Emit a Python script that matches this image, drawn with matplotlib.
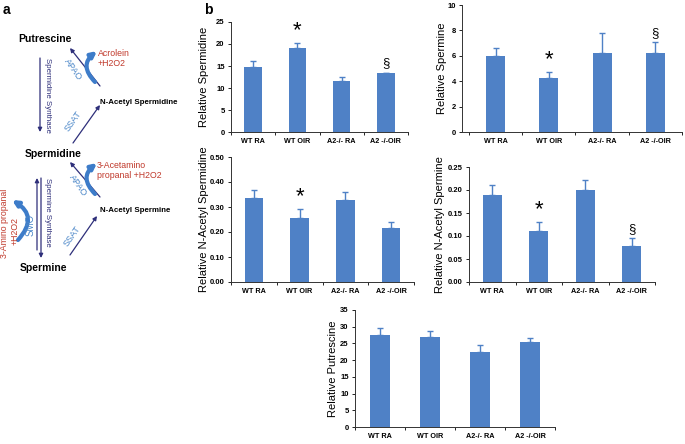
import matplotlib
matplotlib.use("Agg")
import matplotlib.pyplot as plt
from matplotlib.patches import FancyArrowPatch

plt.rcParams['font.family'] = ['Liberation Sans', 'DejaVu Sans']

groups = ["WT RA", "WT OIR", "A2-/- RA", "A2 -/-OIR"]

spermidine = [14.8, 19.0, 11.5, 13.3]
spermidine_err = [1.3, 1.2, 1.0, 0.2]
spermine = [6.0, 4.25, 6.25, 6.2]
spermine_err = [0.6, 0.45, 1.55, 0.85]
ac_spermidine = [0.335, 0.258, 0.327, 0.215]
ac_spermidine_err = [0.035, 0.032, 0.032, 0.025]
ac_spermine = [0.190, 0.110, 0.200, 0.079]
ac_spermine_err = [0.021, 0.020, 0.021, 0.016]
putrescine = [27.5, 27.0, 22.3, 25.3]
putrescine_err = [2.0, 1.6, 2.1, 1.3]

# significance marks per panel: (index, symbol)
marks_spd = [(1, "*"), (3, "§")]
marks_spm = [(1, "*"), (3, "§")]
marks_acspd = [(1, "*")]
marks_acspm = [(1, "*"), (3, "§")]

BAR = "#4f81c6"
W, H = 685, 444

fig = plt.figure(figsize=(6.85, 4.44), dpi=100)


def px_axes(l, t, r, b):
    return fig.add_axes([l / W, 1 - b / H, (r - l) / W, (b - t) / H])


def panel(box, vals, errs, ymax, step, fmt, ylabel, marks, xlim=(-0.5, 3.5), bw=0.4, lab_x=None):
    ax = px_axes(*box)
    x = range(len(groups))
    ax.bar(x, vals, width=bw, color=BAR, zorder=2)
    ax.errorbar(x, vals, yerr=[[0] * 4, errs], fmt="none", ecolor=BAR,
                elinewidth=1.0, capsize=2, capthick=1.0, zorder=1)
    ax.set_xlim(*xlim)
    ax.set_ylim(0, ymax)
    ticks = [i * step for i in range(int(round(ymax / step)) + 1)]
    ax.set_yticks(ticks)
    ax.set_yticklabels([fmt.format(t) for t in ticks], fontsize=5.5, fontweight="bold")
    ax.set_xticks(list(x))
    ax.set_xticklabels(groups, fontsize=5.2, fontweight="bold")
    ax.set_xticks([i - 0.5 for i in range(5)], minor=True)
    ax.tick_params(axis="x", which="major", length=0, pad=4)
    ax.tick_params(axis="x", which="minor", length=2.5, width=0.6, direction="out")
    ax.tick_params(axis="y", length=2.5, width=0.6, pad=2)
    for s in ["top", "right"]:
        ax.spines[s].set_visible(False)
    for s in ["left", "bottom"]:
        ax.spines[s].set_linewidth(0.7)
        ax.spines[s].set_color("#333333")
    ax.set_ylabel(ylabel, fontsize=8)
    if lab_x is not None:
        ax.yaxis.set_label_coords(lab_x, 0.5)
    for i, sym in marks:
        top = vals[i] + errs[i]
        if sym == "*":
            ax.text(i, top + ymax * 0.02, "*", ha="center", va="bottom", fontsize=16)
        else:
            ax.text(i, top + ymax * 0.03, "§", ha="center", va="bottom", fontsize=9.5)
    return ax


panel((231, 22, 408, 132), spermidine, spermidine_err, 25, 5, "{:g}",
      "Relative Spermidine", marks_spd, bw=0.39, lab_x=-0.124)
panel((462, 5, 682, 132), spermine, spermine_err, 10, 2, "{:g}",
      "Relative Spermine", marks_spm, xlim=(-0.63, 3.47), bw=0.36, lab_x=-0.068)
panel((231, 157, 414, 282), ac_spermidine, ac_spermidine_err, 0.5, 0.1, "{:.2f}",
      "Relative N-Acetyl Spermidine", marks_acspd, lab_x=-0.12)
panel((469, 167, 655, 282), ac_spermine, ac_spermine_err, 0.25, 0.05, "{:.2f}",
      "Relative N-Acetyl Spermine", marks_acspm, lab_x=-0.13)
panel((355, 310, 555, 427), putrescine, putrescine_err, 35, 5, "{:g}",
      "Relative Putrescine", [], lab_x=-0.085)

# pathway diagram (panel a) drawn in pixel coordinates
ax0 = fig.add_axes([0, 0, 1, 1], zorder=-1)
ax0.set_xlim(0, W)
ax0.set_ylim(H, 0)
ax0.axis("off")

NAVY = "#2e2f7a"
LBLUE = "#4a86c8"
RED = "#c0392b"

ax0.text(3, 10, "a", fontsize=10, fontweight="bold", va="center")
ax0.text(204, 10, "b", fontsize=10, fontweight="bold", va="center")

for name, xx, yy in [("Putrescine", 45, 39), ("Spermidine", 53, 154), ("Spermine", 43, 268)]:
    ax0.text(xx, yy, name, fontsize=7.5, fontweight="bold", ha="center", va="center")
ax0.text(100, 102, "N-Acetyl Spermidine", fontsize=5.7, fontweight="bold", va="center")
ax0.text(100, 210, "N-Acetyl Spermine", fontsize=5.7, fontweight="bold", va="center")


def arrow(p1, p2, color=NAVY, lw=0.9, rad=0.0, ms=6, style="-|>"):
    a = FancyArrowPatch(p1, p2, arrowstyle=style, mutation_scale=ms, color=color,
                        lw=lw, connectionstyle="arc3,rad=%g" % rad,
                        shrinkA=0, shrinkB=0)
    ax0.add_patch(a)


# straight arrows
arrow((40, 58), (40, 132))
arrow((100, 86), (70, 48))
arrow((73, 143), (100, 105))
arrow((100, 197), (70, 162))
arrow((70, 255), (97, 216))
arrow((37, 250), (37, 178))
arrow((41, 178), (41, 258))

# curved enzyme arrows
arrow((95, 82), (97, 51), color="#3d7cc9", lw=3.0, rad=-0.55, ms=8)
arrow((95, 194), (97, 163), color="#3d7cc9", lw=3.0, rad=-0.55, ms=8)
arrow((18, 240), (12, 200), color="#3d7cc9", lw=3.0, rad=0.6, ms=8)

# enzyme labels
ax0.text(48, 95, "Spermidine Synthase", fontsize=5.7, color=NAVY, rotation=-90,
         ha="center", va="center")
ax0.text(48, 212, "Spermine Synthase", fontsize=5.7, color=NAVY, rotation=-90,
         ha="center", va="center")
ax0.text(73, 69, "APAO", fontsize=6.5, color=LBLUE, rotation=-55, ha="center", va="center")
ax0.text(78, 185, "APAO", fontsize=6.5, color=LBLUE, rotation=-55, ha="center", va="center")
ax0.text(73, 121, "SSAT", fontsize=6.5, color=LBLUE, rotation=55, ha="center", va="center")
ax0.text(72, 236, "SSAT", fontsize=6.5, color=LBLUE, rotation=55, ha="center", va="center")
ax0.text(31, 225, "SMO", fontsize=7, color=LBLUE, rotation=90, ha="center", va="center")

# by-products
ax0.text(98, 53, "Acrolein", fontsize=6.3, color=RED, va="center")
ax0.text(98, 63, "+H2O2", fontsize=6.3, color=RED, va="center")
ax0.text(97, 165, "3-Acetamino", fontsize=6.3, color=RED, va="center")
ax0.text(97, 175, "propanal +H2O2", fontsize=6.3, color=RED, va="center")
ax0.text(5, 223, "3-Amino propanal", fontsize=6.3, color=RED, rotation=90, ha="center", va="center")
ax0.text(15, 231, "+H2O2", fontsize=6.3, color=RED, rotation=90, ha="center", va="center")

fig.savefig("out.png", dpi=100)
